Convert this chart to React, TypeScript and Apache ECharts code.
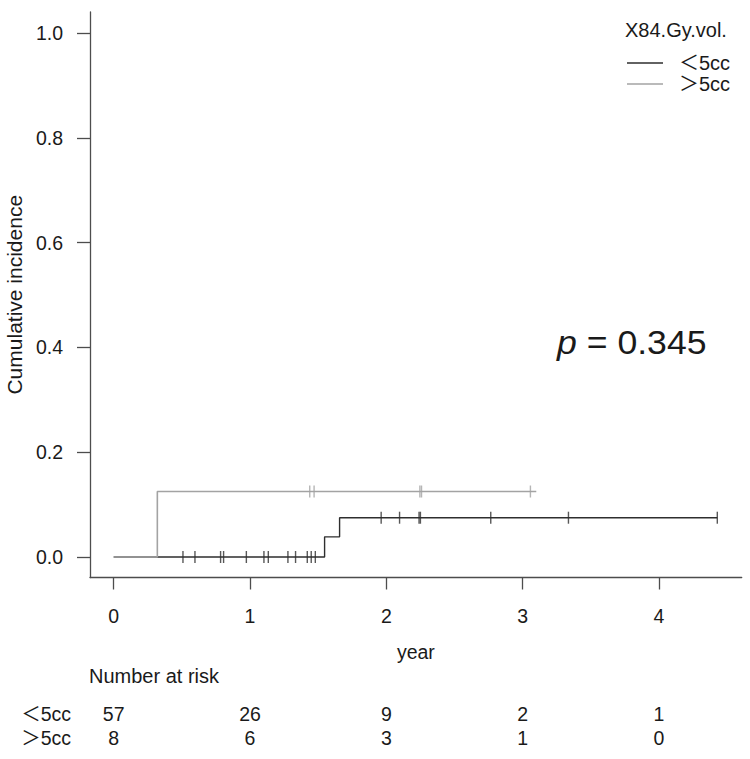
import React, { useEffect, useRef } from "react";
import * as echarts from "echarts";

// ---- data ----
const groupNames = ["＜5cc", "＞5cc"];
const legendTitle = "X84.Gy.vol.";

// step curve (cumulative incidence) for <5cc
const lowTimes = [0, 1.547, 1.657, 4.428];
const lowValues = [0, 0.0385, 0.075, 0.075];
// censor marks for <5cc
const lowCensor = [0.508, 0.596, 0.784, 0.806, 0.973, 1.102, 1.134, 1.278, 1.334, 1.42, 1.449, 1.479, 1.962, 2.097, 2.24, 2.25, 2.766, 3.336, 4.428];

// step curve for >5cc
const highTimes = [0, 0.32, 3.1];
const highValues = [0, 0.125, 0.125];
const highCensor = [1.438, 1.47, 2.246, 2.258, 3.057];

const xTicks = [0, 1, 2, 3, 4];
const yTicks = [0, 0.2, 0.4, 0.6, 0.8, 1.0];

const riskTimes = [0, 1, 2, 3, 4];
const riskLow = [57, 26, 9, 2, 1];
const riskHigh = [8, 6, 3, 1, 0];

const pText = "0.345";

const FONT = "'Liberation Sans', Arial, 'Noto Sans CJK JP', sans-serif";
const DARK = "#2e2e2e";
const GRAY = "#a3a3a3";
const AXIS = "#4d4d4d";
const TEXT = "#1a1a1a";

function stepValue(times: number[], values: number[], t: number) {
  let v = values[0];
  for (let i = 0; i < times.length; i++) {
    if (times[i] <= t) v = values[i];
  }
  return v;
}

export default function App() {
  const ref = useRef<HTMLDivElement>(null);
  useEffect(() => {
    if (!ref.current) return;
    const chart = echarts.init(ref.current, undefined, { renderer: "svg" });
    const X_MIN = -0.174;
    const X_MAX = 4.607;
    const lowLine = lowTimes.map((t, i) => [t, lowValues[i]]);
    const highLine = highTimes.map((t, i) => [t, highValues[i]]);
    const lowCens = lowCensor.map((t) => [t, stepValue(lowTimes, lowValues, t)]);
    const highCens = highCensor.map((t) => [t, stepValue(highTimes, highValues, t)]);
    const riskData: any[] = [];
    riskTimes.forEach((t, i) => {
      riskData.push([t, groupNames[0], riskLow[i]]);
      riskData.push([t, groupNames[1], riskHigh[i]]);
    });

    chart.setOption({
      animation: false,
      backgroundColor: "#ffffff",
      textStyle: { fontFamily: FONT },
      grid: [
        { left: 90, right: 8.3, top: 12, bottom: 181.5, containLabel: false, outerBoundsMode: "none" },
        { left: 90, right: 8.3, top: 702, height: 48, containLabel: false, outerBoundsMode: "none" },
      ],
      xAxis: [
        {
          type: "value",
          gridIndex: 0,
          min: X_MIN,
          max: X_MAX,
          name: "year",
          nameLocation: "middle",
          nameGap: 65,
          nameTextStyle: { fontSize: 19.5, color: TEXT, fontFamily: FONT },
          axisLine: { show: true, onZero: false, lineStyle: { color: AXIS, width: 1.3 } },
          axisTick: { show: true, customValues: xTicks, length: 12, lineStyle: { color: AXIS, width: 1.3 } },
          axisLabel: { customValues: xTicks, margin: 29, fontSize: 19.5, color: TEXT, fontFamily: FONT },
          splitLine: { show: false },
        },
        {
          type: "value",
          gridIndex: 1,
          min: X_MIN,
          max: X_MAX,
          show: false,
        },
      ],
      yAxis: [
        {
          type: "value",
          gridIndex: 0,
          min: -0.0391,
          max: 1.0401,
          name: "Cumulative incidence",
          nameLocation: "middle",
          nameGap: 59,
          nameTextStyle: { fontSize: 21, color: TEXT, fontFamily: FONT },
          axisLine: { show: true, onZero: false, lineStyle: { color: AXIS, width: 1.3 } },
          axisTick: { show: true, customValues: yTicks, length: 13, lineStyle: { color: AXIS, width: 1.3 } },
          axisLabel: {
            customValues: yTicks,
            margin: 27,
            fontSize: 19.5,
            color: TEXT,
            fontFamily: FONT,
            formatter: (v: number) => v.toFixed(1),
          },
          splitLine: { show: false },
        },
        {
          type: "category",
          gridIndex: 1,
          data: groupNames,
          inverse: true,
          axisLine: { show: false },
          axisTick: { show: false },
          axisLabel: { interval: 0, margin: 19, fontSize: 19.5, color: TEXT, fontFamily: FONT },
          splitLine: { show: false },
        },
      ],
      legend: {
        orient: "vertical",
        left: 622,
        top: 48,
        icon: "rect",
        itemWidth: 36,
        itemHeight: 1.5,
        itemGap: 1,
        selectedMode: false,
        data: [
          { name: groupNames[0], itemStyle: { color: DARK } },
          { name: groupNames[1], itemStyle: { color: GRAY } },
        ],
        textStyle: { fontSize: 20, color: TEXT, fontFamily: FONT, padding: [0, 0, 0, 11] },
      },
      graphic: [
        {
          type: "text",
          left: 625,
          top: 20,
          style: { text: legendTitle, font: `20px ${FONT}`, fill: TEXT },
        },
        {
          type: "text",
          left: 89,
          top: 666,
          style: { text: "Number at risk", font: `20px ${FONT}`, fill: TEXT },
        },
        {
          type: "text",
          left: 557,
          top: 326,
          scaleX: 1.08,
          style: {
            text: "{i|p} = " + pText,
            rich: {
              i: { fontStyle: "italic", fontSize: 33, fontFamily: FONT, fill: TEXT },
            },
            font: `33px ${FONT}`,
            fill: TEXT,
          },
        },
      ],
      series: [
        {
          name: groupNames[0],
          type: "line",
          xAxisIndex: 0,
          yAxisIndex: 0,
          step: "end",
          data: lowLine,
          symbol: "none",
          color: DARK,
          lineStyle: { color: DARK, width: 1.4 },
          z: 2,
        },
        {
          name: "censor-low",
          type: "scatter",
          xAxisIndex: 0,
          yAxisIndex: 0,
          data: lowCens,
          symbol: "rect",
          symbolSize: [1.4, 12],
          itemStyle: { color: DARK },
          z: 3,
        },
        {
          name: groupNames[1],
          type: "line",
          xAxisIndex: 0,
          yAxisIndex: 0,
          step: "end",
          data: highLine,
          symbol: "none",
          color: GRAY,
          lineStyle: { color: GRAY, width: 1.6 },
          z: 4,
        },
        {
          name: "censor-high",
          type: "scatter",
          xAxisIndex: 0,
          yAxisIndex: 0,
          data: highCens,
          symbol: "rect",
          symbolSize: [1.4, 12],
          itemStyle: { color: GRAY },
          z: 5,
        },
        {
          name: "risk",
          type: "scatter",
          xAxisIndex: 1,
          yAxisIndex: 1,
          data: riskData,
          symbolSize: 1,
          itemStyle: { color: "rgba(0,0,0,0)" },
          label: {
            show: true,
            position: "inside",
            opacity: 1,
            formatter: (p: any) => String(p.value[2]),
            fontSize: 19.5,
            color: TEXT,
            fontFamily: FONT,
          },
        },
      ],
    });
    return () => chart.dispose();
  }, []);
  return (
    <div
      ref={ref}
      style={{ position: "fixed", left: 0, top: 0, width: 750, height: 759, background: "#fff" }}
    />
  );
}
